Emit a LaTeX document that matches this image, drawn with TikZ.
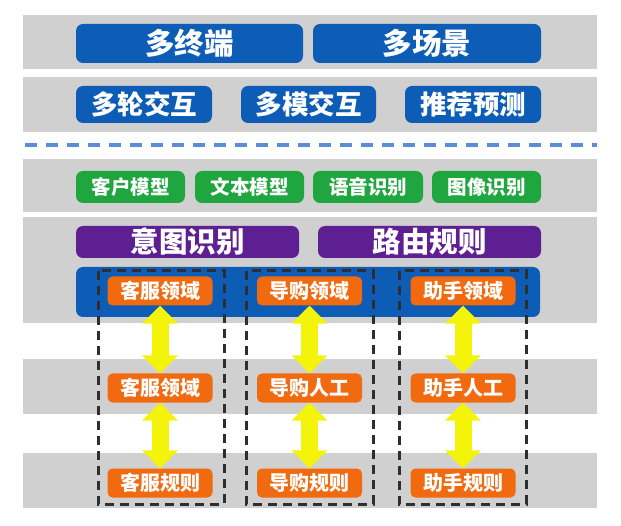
\documentclass[tikz,border=0pt]{standalone}
\usepackage{fontspec}
\newfontfamily\cjk{Noto Sans CJK SC}
\usetikzlibrary{arrows.meta}
\definecolor{bandgray}{HTML}{D0D0D0}
\definecolor{boxblue}{HTML}{0D5CB6}
\definecolor{boxgreen}{HTML}{20A63F}
\definecolor{boxpurple}{HTML}{5E1F93}
\definecolor{boxorange}{HTML}{F26A0F}
\definecolor{arrowyellow}{HTML}{F4F40A}
\definecolor{sepblue}{HTML}{5B8DD6}
\definecolor{dashgray}{HTML}{2E2E2E}
\tikzset{
  band/.style={fill=bandgray, draw=none},
  basebox/.style={rectangle, rounded corners=7pt, draw=none, text=white, inner sep=0pt, font=\cjk\bfseries},
  bluebox/.style={basebox, fill=boxblue},
  greenbox/.style={basebox, fill=boxgreen, font=\cjk\bfseries\fontsize{19.5}{20}\selectfont},
  purplebox/.style={basebox, fill=boxpurple, font=\cjk\bfseries\fontsize{28.5}{30}\selectfont},
  orangebox/.style={basebox, fill=boxorange, rounded corners=5pt, minimum width=105pt, minimum height=29pt, font=\cjk\bfseries\fontsize{20}{22}\selectfont},
  colframe/.style={draw=dashgray, line width=3pt, dash pattern=on 9pt off 6pt},
  dblarrow/.style={draw=arrowyellow, line width=17pt,
    {Triangle[width=35pt,length=18pt]}-{Triangle[width=35pt,length=18pt]}},
}
\begin{document}
\begin{tikzpicture}[x=1pt,y=-1pt]
\useasboundingbox[fill=white] (0,0) rectangle (621,526);
% gray bands
\fill[band] (23,15) rectangle (597,69);
\fill[band] (23,77) rectangle (597,132);
\fill[band] (23,159) rectangle (597,212);
\fill[band] (23,217) rectangle (597,323);
\fill[band] (23,359) rectangle (597,414);
\fill[band] (23,453) rectangle (597,508);
% separator
\coordinate (sepL) at (25,145);
\coordinate (sepR) at (597,145);
\draw[sepblue, line width=3.5pt, dash pattern=on 12pt off 9pt] (sepL) -- (sepR);
% row 1
\node[bluebox, minimum width=227pt, minimum height=39pt, font=\cjk\bfseries\fontsize{29.5}{31}\selectfont] (t1) at (189.5,43.5) {多终端};
\node[bluebox, minimum width=228pt, minimum height=39pt, font=\cjk\bfseries\fontsize{29.5}{31}\selectfont] (t2) at (427,43.5) {多场景};
% row 2
\node[bluebox, minimum width=136pt, minimum height=37pt, font=\cjk\bfseries\fontsize{26.5}{28}\selectfont] (m1) at (144,104.5) {多轮交互};
\node[bluebox, minimum width=135pt, minimum height=37pt, font=\cjk\bfseries\fontsize{26.5}{28}\selectfont] (m2) at (308.5,104.5) {多模交互};
\node[bluebox, minimum width=136pt, minimum height=37pt, font=\cjk\bfseries\fontsize{26.5}{28}\selectfont] (m3) at (473,104.5) {推荐预测};
% green row
\node[greenbox, minimum width=109pt, minimum height=32pt] (g1) at (130.5,187) {客户模型};
\node[greenbox, minimum width=109pt, minimum height=32pt] (g2) at (249.5,187) {文本模型};
\node[greenbox, minimum width=110pt, minimum height=32pt] (g3) at (368,187) {语音识别};
\node[greenbox, minimum width=109pt, minimum height=32pt] (g4) at (486.5,187) {图像识别};
% purple row
\node[purplebox, minimum width=223pt, minimum height=32pt] (p1) at (187.5,242) {意图识别};
\node[purplebox, minimum width=223pt, minimum height=32pt] (p2) at (429.5,242) {路由规则};
% big blue domain bar
\node[bluebox, minimum width=464pt, minimum height=50pt] (dom) at (308,292) {};
% orange boxes
\node[orangebox] (a1) at (160,291) {客服领域};
\node[orangebox] (b1) at (309.5,291) {导购领域};
\node[orangebox] (c1) at (463,291) {助手领域};
\node[orangebox] (a2) at (160,388) {客服领域};
\node[orangebox] (b2) at (309.5,388) {导购人工};
\node[orangebox] (c2) at (463,388) {助手人工};
\node[orangebox] (a3) at (160,483) {客服规则};
\node[orangebox] (b3) at (309.5,483) {导购规则};
\node[orangebox] (c3) at (463,483) {助手规则};
% dashed column frames
\draw[colframe] (98,271) rectangle (224,504);
\draw[colframe] (246,271) rectangle (373,504);
\draw[colframe] (399,271) rectangle (526,504);
% yellow double arrows
\draw[dblarrow] (a1.south) -- (a2.north);
\draw[dblarrow] (b1.south) -- (b2.north);
\draw[dblarrow] (c1.south) -- (c2.north);
\draw[dblarrow] (a2.south) -- (a3.north);
\draw[dblarrow] (b2.south) -- (b3.north);
\draw[dblarrow] (c2.south) -- (c3.north);
\end{tikzpicture}
\end{document}
